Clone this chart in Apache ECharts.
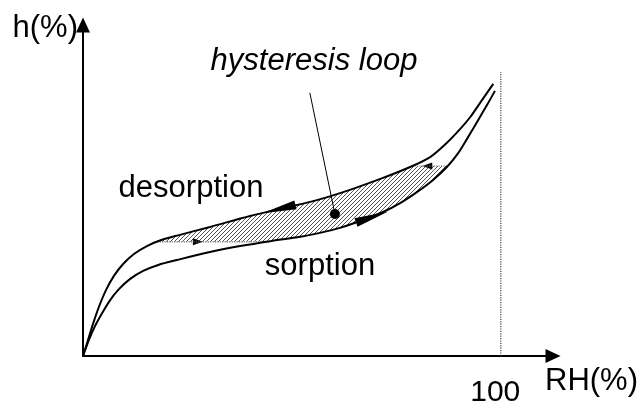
<!DOCTYPE html>
<html>
<head>
<meta charset="utf-8">
<script src="https://cdn.jsdelivr.net/npm/echarts@6.0.0/dist/echarts.min.js"></script>
<style>
html, body { margin: 0; padding: 0; background: #fff; }
#chart { width: 643px; height: 412px; }
</style>
</head>
<body>
<div id="chart"></div>
<script>
// x = RH(%), y = h(%) on a 0..100 schematic scale
const desorption = [
  [0, 0], [1.2, 4.8], [2.4, 9.7], [3.8, 14.8], [5.5, 19.9], [7.4, 24.2],
  [9.6, 27.8], [12.2, 30.8], [15.3, 33.2], [18.9, 35.1], [23.2, 36.6],
  [30.4, 39.0], [40.0, 42.3], [47.9, 44.7], [56.0, 47.1], [63.9, 50.2],
  [71.8, 53.8], [78.3, 57.1], [83.1, 60.1], [87.1, 64.4], [90.3, 68.6],
  [92.7, 72.2], [95.5, 77.3], [98.2, 82.2]
];
const sorption = [
  [0, 0], [1.4, 4.8], [2.9, 9.1], [4.6, 13.0], [6.5, 16.9], [8.6, 20.2],
  [11.3, 23.3], [14.4, 25.7], [18.0, 27.5], [22.5, 29.0], [30.4, 31.4],
  [37.6, 33.2], [44.8, 34.7], [52.0, 36.0], [56.7, 37.2], [61.5, 38.7],
  [66.3, 40.8], [71.8, 43.5], [75.9, 46.2], [80.0, 49.6], [83.8, 53.2],
  [87.1, 57.1], [89.8, 61.3], [92.2, 66.2], [94.6, 71.3], [96.7, 75.8],
  [98.6, 80.1]
];
// scanning lines closing the hysteresis loop
const scanLow = [[17.8, 34.5], [44.8, 34.5]];
const scanHigh = [[78.8, 57.4], [87.2, 57.4]];
const fullRH = [[100, 0], [100, 85.8]];
// arrows: [x, y, angle]
const curveArrows = [[46.9, 44.4, 104.4], [69.2, 42.0, -71]];
const scanArrows = [[27.5, 34.5, -90], [82.4, 57.4, 90]];
const loopDot = [[60.3, 42.9]];
const leader = [[54.3, 79.5], [60.3, 42.9]];
const xTicks = [100];

const FONT = "'Liberation Sans', Arial, sans-serif";

// hatched loop outline: low scan line, sorption up, high scan line, desorption down
const hatchLoop = [scanLow[0], scanLow[1]]
  .concat(sorption.filter(p => p[0] > 44.8 && p[0] < 87.2))
  .concat([scanHigh[1], scanHigh[0]])
  .concat(desorption.filter(p => p[0] > 17.8 && p[0] < 78.8).reverse());

function hatchPattern() {
  const s = 4;
  const c = document.createElement('canvas');
  c.width = s; c.height = s;
  const ctx = c.getContext('2d');
  ctx.strokeStyle = '#555';
  ctx.lineWidth = 1;
  ctx.beginPath();
  ctx.moveTo(-1, 1); ctx.lineTo(1, -1);
  ctx.moveTo(0, s); ctx.lineTo(s, 0);
  ctx.moveTo(s - 1, s + 1); ctx.lineTo(s + 1, s - 1);
  ctx.stroke();
  return c;
}

const chart = echarts.init(document.getElementById('chart'));
const pattern = { image: hatchPattern(), repeat: 'repeat' };

const dotted = (data, color, width) => ({
  type: 'line', data: data, showSymbol: false, silent: true,
  lineStyle: { type: 'dotted', color: color, width: width }
});

chart.setOption({
  animation: false,
  grid: { left: 83, right: 90, top: 25, bottom: 56 },
  xAxis: {
    type: 'value', min: 0, max: 112.5, interval: 100,
    name: 'RH(%)', nameLocation: 'end', nameGap: -8,
    nameTextStyle: { fontFamily: FONT, fontSize: 31, color: '#000',
      verticalAlign: 'top', padding: [10, 0, 0, 0] },
    axisLine: { lineStyle: { color: '#000', width: 2 },
      symbol: ['none', 'triangle'], symbolSize: [14, 15] },
    axisTick: { show: false },
    splitLine: { show: false },
    axisLabel: { margin: 22, fontFamily: FONT, fontSize: 30, color: '#000',
      padding: [0, 11, 0, 0],
      formatter: v => xTicks.indexOf(v) >= 0 ? String(v) : '' }
  },
  yAxis: {
    type: 'value', min: 0, max: 100,
    name: 'h(%)', nameLocation: 'end', nameGap: -3,
    nameTextStyle: { fontFamily: FONT, fontSize: 31, color: '#000',
      align: 'right', verticalAlign: 'middle', padding: [0, 5, 0, 0] },
    axisLine: { lineStyle: { color: '#000', width: 2 },
      symbol: ['none', 'triangle'], symbolSize: [14, 15] },
    axisTick: { show: false },
    axisLabel: { show: false },
    splitLine: { show: false }
  },
  graphic: [
    { type: 'text', x: 314, y: 61,
      style: { text: 'hysteresis loop', font: 'italic 31px ' + FONT, fill: '#000',
        textAlign: 'center', textVerticalAlign: 'middle' } },
    { type: 'text', x: 191, y: 188,
      style: { text: 'desorption', font: '31px ' + FONT, fill: '#000',
        textAlign: 'center', textVerticalAlign: 'middle' } },
    { type: 'text', x: 320, y: 266,
      style: { text: 'sorption', font: '31px ' + FONT, fill: '#000',
        textAlign: 'center', textVerticalAlign: 'middle' } }
  ],
  series: [
    {
      type: 'custom', data: hatchLoop, silent: true,
      renderItem: (params, api) => {
        if (params.dataIndex !== 0) return null;
        return {
          type: 'polygon',
          shape: { points: hatchLoop.map(p => api.coord(p)) },
          style: { fill: pattern, stroke: null }
        };
      }
    },
    dotted(scanLow, '#666', 1.2),
    dotted(scanHigh, '#666', 1.2),
    dotted(fullRH, '#444', 1.2),
    {
      name: 'desorption', type: 'line', data: desorption, smooth: 0.3,
      showSymbol: false, lineStyle: { color: '#000', width: 2 }
    },
    {
      name: 'sorption', type: 'line', data: sorption, smooth: 0.3,
      showSymbol: false, lineStyle: { color: '#000', width: 2 }
    },
    {
      type: 'line', data: leader, showSymbol: false,
      lineStyle: { color: '#000', width: 1 }
    },
    {
      type: 'scatter', symbol: 'triangle', symbolSize: [9, 34],
      itemStyle: { color: '#000', opacity: 1 },
      data: curveArrows.map(a => ({ value: [a[0], a[1]], symbolRotate: a[2] }))
    },
    {
      type: 'scatter', symbol: 'triangle', symbolSize: [7, 10],
      itemStyle: { color: '#000', opacity: 1 },
      data: scanArrows.map(a => ({ value: [a[0], a[1]], symbolRotate: a[2] }))
    },
    {
      type: 'scatter', symbol: 'circle', symbolSize: 10,
      itemStyle: { color: '#000', opacity: 1 },
      data: loopDot
    }
  ]
});
</script>
</body>
</html>
